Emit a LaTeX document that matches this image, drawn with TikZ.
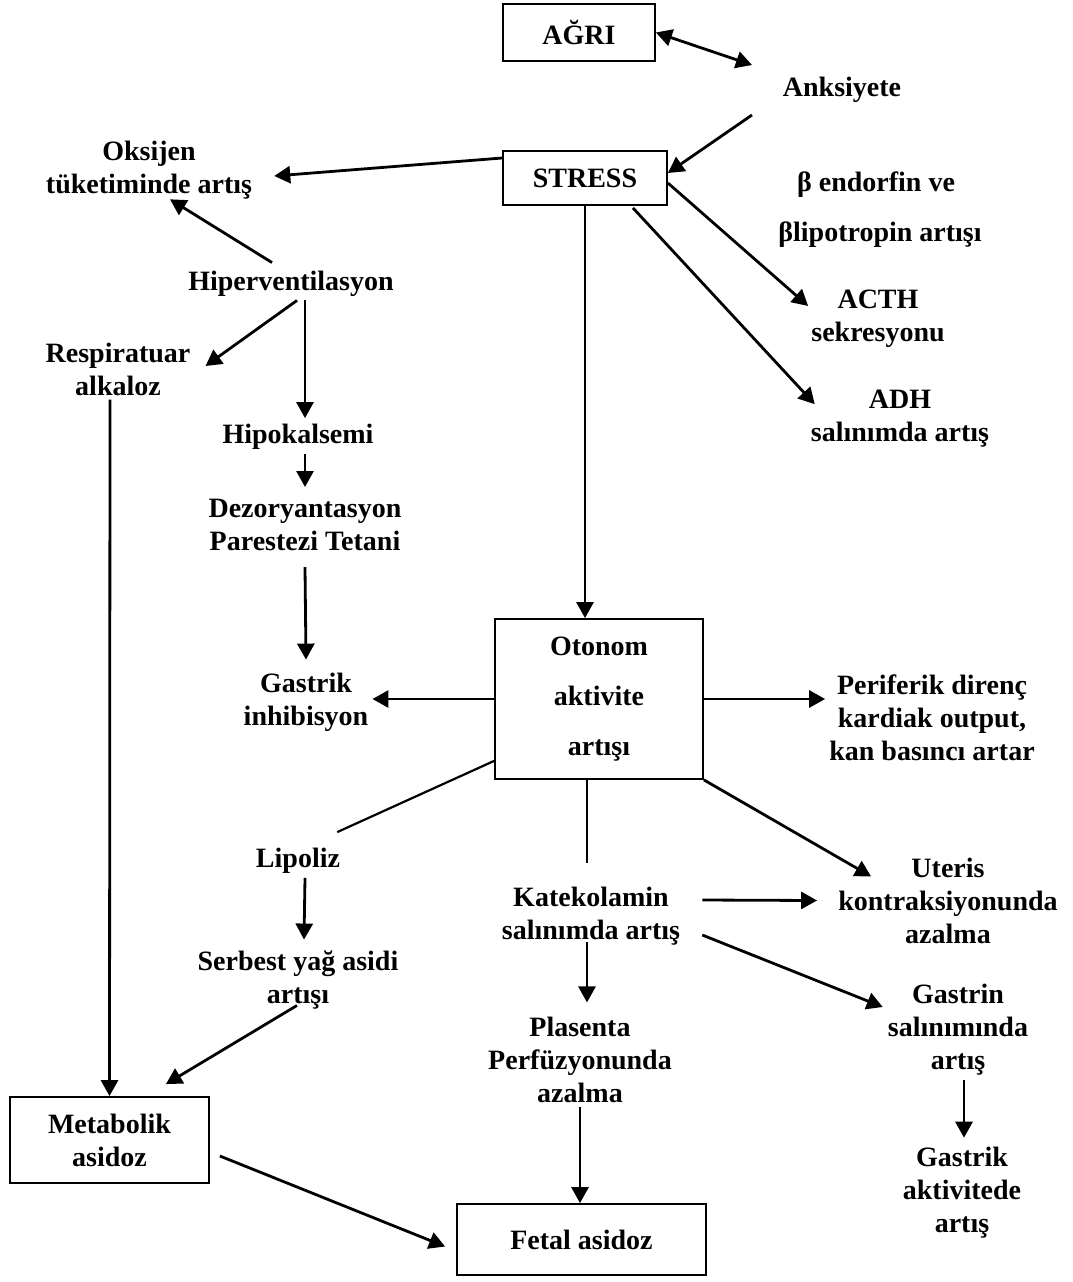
\documentclass[tikz,border=0pt]{standalone}
\usepackage{fontspec}
\setmainfont{Liberation Serif}
\usetikzlibrary{arrows.meta,calc}

\begin{document}
\begin{tikzpicture}[x=1pt,y=-1pt,
  font=\fontsize{28}{33}\selectfont\bfseries,
  every node/.style={align=center,inner sep=4pt},
  box/.style={draw,line width=1.8pt},
  arr/.style={line width=2.8pt,-{Triangle[length=16pt,width=17pt]}},
  dblarr/.style={line width=2.8pt,{Triangle[length=16pt,width=17pt]}-{Triangle[length=16pt,width=17pt]}},
  ln/.style={line width=2.2pt}]
  \useasboundingbox (0,0) rectangle (1073,1282);

  % top
  \node[box,minimum width=152pt,minimum height=57pt] (agri) at (579,32.5) {AĞRI};
  \node (anks) at (842,90) {Anksiyete};
  \node[box,minimum width=164pt,minimum height=54pt] (stress) at (585,178) {STRESS};
  \node (endo) at (876,185) {β endorfin ve};
  \node (lipotr) at (880,235) {βlipotropin artışı};
  \draw[dblarr] (agri.east) to ($(anks)+(-90,-25)$);
  \draw[arr] ($(anks)+(-90,25)$) to ($(stress.east)+(0,-5)$);

  % left branch
  \node (oksi) at (149,170) {Oksijen\\tüketiminde artış};
  \node (hiper) at (291,283.5) {Hiperventilasyon};
  \node (resp) at (118,369) {Respiratuar\\alkaloz};
  \node (hipo) at (298,437) {Hipokalsemi};
  \node (dez) at (305,525) {Dezoryantasyon\\Parestezi Tetani};
  \node (gasinh) at (306,702) {Gastrik\\inhibisyon};
  \draw[arr] ($(stress.west)+(0,-20)$) to ($(oksi.east)+(18,6)$);
  \draw[arr] ($(hiper.north)+(-19,-4)$) to ($(oksi.south)+(21,-4)$);
  \draw[arr] ($(hiper.south)+(6,0)$) to ($(resp.east)+(11,-3)$);
  \draw[arr] ($(hiper.south)+(14,0)$) to ($(hipo.north)+(7,-2)$);
  \draw[arr] ($(hipo.south)+(7,0)$) to ($(dez.north)+(0,-8)$);
  \draw[arr] ($(dez.south)+(0,12)$) to ($(gasinh.north)+(0,-9)$);

  % right of stress
  \node (acth) at (878,319) {ACTH\\sekresyonu};
  \node (adh) at (900,419) {ADH\\salınımda artış};
  \draw[arr] ($(stress.east)+(0,5)$) to ($(acth.west)+(1,-13)$);
  \draw[arr] ($(stress.south east)+(-35,2)$) to ($(adh.north west)+(8,18)$);

  % otonom
  \node[box,minimum width=208pt,minimum height=160pt] (oton) at (599,699)
    {Otonom\\[17pt]aktivite\\[17pt]artışı};
  \node (perif) at (932,718) {Periferik direnç\\kardiak output,\\kan basıncı artar};
  \draw[arr] (stress.south) to (stress.south |- oton.north);
  \draw[arr] (oton.west) to (oton.west -| gasinh.east);
  \draw[arr] (oton.east) to (oton.east -| perif.west);

  % lower part
  \node (lipol) at (298,861) {Lipoliz};
  \node (serb) at (298,980) {Serbest yağ asidi\\artışı};
  \node (kate) at (591,916) {Katekolamin\\salınımda artış};
  \node (uter) at (948,900.5) {Uteris\\kontraksiyonunda\\azalma};
  \node (gastrin) at (958,1030) {Gastrin\\salınımında\\artış};
  \node (plas) at (580,1059.5) {Plasenta\\Perfüzyonunda\\azalma};
  \node (gasakt) at (962,1192.5) {Gastrik\\aktivitede\\artış};
  \node[box,minimum width=199pt,minimum height=86pt] (meta) at (109.5,1140) {Metabolik\\asidoz};
  \node[box,minimum width=249pt,minimum height=71pt] (fetal) at (581.5,1239.5) {Fetal asidoz};

  \draw[ln] ($(oton.south west)+(0,-19)$) to ($(lipol.north east)+(-7,-12)$);
  \draw[ln] ($(oton.south)+(-12,0)$) to ($(kate.north)+(-4,-20)$);
  \draw[arr] (oton.south east) to ($(uter.north west)+(37,23)$);
  \draw[arr] ($(kate.east)+(18,-16)$) to ($(uter.west)+(-17,0)$);
  \draw[arr] ($(kate.east)+(18,19)$) to ($(gastrin.west)+(-1,-23)$);
  \draw[arr] ($(kate.south)+(-4,-7)$) to ($(plas.north)+(7,-10)$);
  \draw[arr] (plas.south) to (plas.south |- fetal.north);
  \draw[arr] ($(gastrin.south)+(6,0)$) to ($(gasakt.north)+(2,-5)$);
  \draw[arr] ($(lipol.south)+(7,0)$) to ($(serb.north)+(6,-7)$);
  \draw[arr] ($(serb.south)+(-1,-8)$) to ($(meta.north east)+(-44,-12)$);
  \draw[arr] ($(resp.south)+(-8,0)$) to (meta.north);
  \draw[arr] ($(meta.east)+(10,16)$) to ($(fetal.west)+(-11,7)$);
\end{tikzpicture}
\end{document}
